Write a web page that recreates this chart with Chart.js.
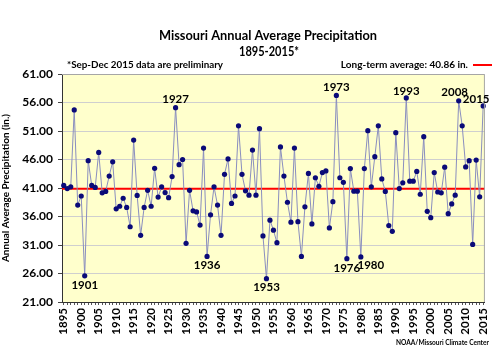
<!DOCTYPE html>
<html>
<head>
<meta charset="utf-8">
<script src="https://cdn.jsdelivr.net/npm/chart.js@4/dist/chart.umd.min.js"></script>
<style>
  html, body { margin: 0; padding: 0; background: #fff; }
  #wrap { width: 500px; height: 348px; position: relative; }
</style>
</head>
<body>
<div id="wrap"><canvas id="chart"></canvas></div>
<script>
// --- data ---
const FIRST_YEAR = 1895;
const LAST_YEAR = 2015;
const YEARS = Array.from({ length: LAST_YEAR - FIRST_YEAR + 1 }, (_, i) => FIRST_YEAR + i);

// annual precipitation (in.)
const PRECIP = [
  41.45, 40.9, 41.2, 54.7, 38.0, 39.6, 25.6, 45.8, 41.45, 41.1,   // 1895-1904
  47.25, 40.15, 40.4, 43.1, 45.6, 37.35, 37.8, 39.2, 37.6, 34.2,  // 1905-1914
  49.4, 39.7, 32.7, 37.6, 40.6, 37.8, 44.45, 39.4, 41.2, 40.2,    // 1915-1924
  39.3, 43.0, 55.1, 45.1, 46.0, 31.3, 40.6, 37.0, 36.8, 34.5,     // 1925-1934
  48.0, 29.0, 36.3, 41.2, 38.0, 32.7, 43.4, 46.1, 38.3, 39.6,     // 1935-1944
  51.9, 43.4, 40.5, 39.75, 47.65, 39.75, 51.4, 32.6, 25.1, 35.35, // 1945-1954
  33.6, 31.4, 48.2, 43.1, 38.5, 35.0, 48.0, 35.1, 29.0, 37.7,     // 1955-1964
  43.55, 34.7, 42.8, 41.3, 43.7, 44.0, 34.0, 38.6, 57.25, 42.8,   // 1965-1974
  42.0, 28.6, 44.4, 40.45, 40.45, 28.9, 44.4, 51.05, 41.2, 46.5,  // 1975-1984
  51.9, 42.6, 40.4, 34.4, 33.4, 50.7, 40.9, 41.9, 56.8, 42.2,     // 1985-1994
  42.2, 43.9, 39.9, 50.0, 36.9, 35.8, 43.7, 40.3, 40.15, 44.65,   // 1995-2004
  36.5, 38.2, 39.75, 56.3, 51.9, 44.7, 45.8, 31.1, 45.9, 39.45,   // 2005-2014
  55.4                                                            // 2015
];

const LONG_TERM_AVG = 40.86;
const Y_MIN = 21, Y_MAX = 61, Y_STEP = 5;
const X_LABEL_STEP = 5;

// years called out on the chart
const ANNOTATED = [1901, 1927, 1936, 1953, 1973, 1976, 1980, 1993, 2008, 2015];

// label placement relative to the point (style only)
const ANNOT_STYLE = {
  1901: { dx: 0, dy: 10 },  1927: { dx: 0, dy: -8 },
  1936: { dx: 0, dy: 9 },   1953: { dx: 0, dy: 9 },
  1973: { dx: 0, dy: -8 },  1976: { dx: 0, dy: 10 },
  1980: { dx: 10, dy: 8 },  1993: { dx: 0, dy: -7 },
  2008: { dx: -4, dy: -8 }, 2015: { dx: -7, dy: -7 }
};

const FONT = 'Lato, "Open Sans", sans-serif';

// draw text squeezed to a given width (Calibri-ish narrow look)
function fitText(ctx, text, x, y, width) {
  const w = ctx.measureText(text).width;
  ctx.save();
  ctx.translate(x, y);
  ctx.scale(Math.min(1, width / w), 1);
  ctx.fillText(text, 0, 0);
  ctx.restore();
}

const decor = {
  id: 'decor',
  beforeDraw(chart) {
    const { ctx, chartArea: a } = chart;
    ctx.save();
    ctx.fillStyle = '#ffffff';
    ctx.fillRect(0, 0, chart.width, chart.height);
    ctx.fillStyle = '#ffffcc';
    ctx.fillRect(a.left, a.top, a.right - a.left, a.bottom - a.top);
    ctx.restore();
  },
  beforeDatasetsDraw(chart) {
    const { ctx, chartArea: a } = chart;
    const y = chart.scales.y.getPixelForValue(LONG_TERM_AVG);
    ctx.save();
    ctx.strokeStyle = '#ff0000';
    ctx.lineWidth = 2;
    ctx.beginPath();
    ctx.moveTo(a.left, y);
    ctx.lineTo(a.right, y);
    ctx.stroke();
    ctx.restore();
  },
  afterDraw(chart) {
    const { ctx, chartArea: a } = chart;
    ctx.save();
    // plot border (top/right)
    ctx.strokeStyle = '#a6a6a6';
    ctx.lineWidth = 1;
    ctx.beginPath();
    ctx.moveTo(a.left, a.top + 0.5);
    ctx.lineTo(a.right - 0.5, a.top + 0.5);
    ctx.lineTo(a.right - 0.5, a.bottom);
    ctx.stroke();

    ctx.fillStyle = '#000';
    ctx.textAlign = 'center';
    ctx.textBaseline = 'middle';
    ctx.font = 'bold 13.5px ' + FONT;
    fitText(ctx, 'Missouri Annual Average Precipitation', 268, 36, 218);
    fitText(ctx, '1895-2015*', 269, 52, 60);

    ctx.font = 'bold 10px ' + FONT;
    ctx.textAlign = 'left';
    fitText(ctx, '*Sep-Dec 2015 data are preliminary', 67, 65, 156);
    ctx.textAlign = 'right';
    fitText(ctx, 'Long-term average: ' + LONG_TERM_AVG.toFixed(2) + ' in.', 468, 65, 128);
    ctx.strokeStyle = '#ff0000';
    ctx.lineWidth = 2;
    ctx.beginPath();
    ctx.moveTo(473, 65);
    ctx.lineTo(492, 65);
    ctx.stroke();

    ctx.font = 'bold 8px ' + FONT;
    fitText(ctx, 'NOAA/Missouri Climate Center', 489, 342, 93);

    // year call-outs
    const pts = chart.getDatasetMeta(0).data;
    ctx.font = 'bold 11.5px ' + FONT;
    ctx.textAlign = 'center';
    ANNOTATED.forEach(yr => {
      const p = pts[YEARS.indexOf(yr)];
      const s = ANNOT_STYLE[yr];
      ctx.fillText(String(yr), p.x + s.dx, p.y + s.dy);
    });
    ctx.restore();
  }
};

new Chart(document.getElementById('chart'), {
  type: 'line',
  data: {
    labels: YEARS,
    datasets: [{
      data: PRECIP,
      borderColor: '#8a8ebf',
      borderWidth: 1,
      pointRadius: 2.6,
      pointBackgroundColor: '#0a0a78',
      pointBorderColor: '#0a0a78',
      pointBorderWidth: 0,
      tension: 0
    }]
  },
  options: {
    responsive: true,
    maintainAspectRatio: false,
    animation: false,
    devicePixelRatio: 1,
    layout: { padding: { top: 74, right: 8, left: 0, bottom: 0 } },
    plugins: { legend: { display: false }, tooltip: { enabled: false } },
    scales: {
      x: {
        type: 'category',
        offset: true,
        grid: { drawOnChartArea: false, drawTicks: true, tickLength: 3, color: '#555' },
        border: { color: '#333' },
        ticks: {
          autoSkip: false,
          minRotation: 90,
          maxRotation: 90,
          padding: 3,
          color: '#000',
          font: { family: FONT, size: 11.5, weight: 'bold' },
          callback: (v, i) => ((YEARS[i] - FIRST_YEAR) % X_LABEL_STEP === 0 ? String(YEARS[i]) : '')
        },
        afterFit: s => { s.height = 46; }
      },
      y: {
        min: Y_MIN,
        max: Y_MAX,
        grid: { color: '#cfcfcf', tickColor: '#444', tickLength: 4 },
        border: { color: '#333' },
        ticks: {
          stepSize: Y_STEP,
          padding: 5,
          color: '#000',
          font: { family: FONT, size: 12, weight: 'bold' },
          callback: v => v.toFixed(2)
        },
        title: {
          display: true,
          text: 'Annual Average Precipitation (in.)',
          color: '#000',
          padding: { top: 0, bottom: 0 },
          font: { family: FONT, size: 10, weight: 'bold' }
        },
        afterFit: s => { s.width = 62; }
      }
    }
  },
  plugins: [decor]
});
</script>
</body>
</html>
